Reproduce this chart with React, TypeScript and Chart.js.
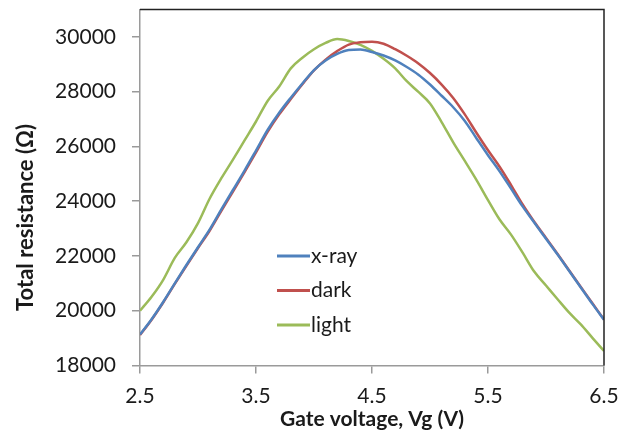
import React, { useEffect, useRef } from "react";
import { Chart, registerables } from "chart.js";

Chart.register(...registerables);

const VG = [
  2.5, 2.6, 2.7, 2.8, 2.9, 3.0, 3.1, 3.2, 3.3, 3.4, 3.5, 3.6, 3.7, 3.8, 3.9, 4.0,
  4.1, 4.2, 4.3, 4.4, 4.5, 4.6, 4.7, 4.8, 4.9, 5.0, 5.1, 5.2, 5.3, 5.4, 5.5, 5.6,
  5.7, 5.8, 5.9, 6.0, 6.1, 6.2, 6.3, 6.4, 6.5,
];

const XRAY = [
  19130, 19690, 20320, 21000, 21670, 22320, 22960, 23690, 24400, 25110, 25850,
  26600, 27230, 27780, 28300, 28790, 29140, 29380, 29520, 29540, 29450, 29320,
  29140, 28900, 28620, 28260, 27850, 27430, 26930, 26300, 25680, 25090, 24450,
  23800, 23210, 22630, 22050, 21450, 20850, 20250, 19670,
];

const DARK = [
  19110, 19670, 20300, 20980, 21640, 22290, 22920, 23640, 24340, 25050, 25780,
  26530, 27170, 27730, 28270, 28780, 29170, 29480, 29720, 29800, 29820, 29750,
  29550, 29310, 29030, 28680, 28260, 27770, 27170, 26500, 25860, 25260, 24580,
  23870, 23240, 22660, 22070, 21470, 20870, 20270, 19680,
];

const LIGHT = [
  20000, 20510, 21130, 21930, 22500, 23200, 24090, 24830, 25510, 26210, 26910,
  27660, 28190, 28850, 29240, 29550, 29780, 29920, 29850, 29710, 29490, 29200,
  28850, 28380, 27990, 27570, 26890, 26150, 25470, 24780, 24040, 23330, 22770,
  22110, 21420, 20920, 20420, 19930, 19500, 19010, 18530,
];

const SERIES_NAMES = ["x-ray", "dark", "light"];
const SERIES_COLORS = ["#4F81BD", "#C0504D", "#9BBB59"];
const X_TICKS = [2.5, 3.5, 4.5, 5.5, 6.5];
const Y_TICKS = [18000, 20000, 22000, 24000, 26000, 28000, 30000];
const X_TITLE = "Gate voltage, Vg (V)";
const Y_TITLE = "Total resistance (\u03A9)";

const FONT = "Lato, 'Open Sans', sans-serif";
const TEXT_COLOR = "#1a1a1a";
const AXIS_COLOR = "#9a9a9a";

const overlayPlugin = {
  id: "overlay",
  afterDatasetsDraw(chart: any) {
    const { ctx, chartArea } = chart;
    ctx.save();
    // top & right frame
    ctx.strokeStyle = "#222222";
    ctx.lineWidth = 1.5;
    ctx.beginPath();
    ctx.moveTo(chartArea.left, chartArea.top);
    ctx.lineTo(chartArea.right, chartArea.top);
    ctx.lineTo(chartArea.right, chartArea.bottom);
    ctx.stroke();

    // legend inside plot
    const lx = 277;
    const rows = [256, 290.5, 325];
    ctx.font = `21px ${FONT}`;
    ctx.textBaseline = "middle";
    ctx.textAlign = "left";
    chart.data.datasets.forEach((ds: any, i: number) => {
      const y = rows[i];
      ctx.strokeStyle = ds.borderColor;
      ctx.lineWidth = 3;
      ctx.beginPath();
      ctx.moveTo(lx, y);
      ctx.lineTo(lx + 33, y);
      ctx.stroke();
      ctx.fillStyle = TEXT_COLOR;
      ctx.fillText(ds.label, lx + 34, y);
    });

    // y-axis title
    ctx.translate(33, 217.5);
    ctx.rotate(-Math.PI / 2);
    ctx.font = `bold 22px ${FONT}`;
    ctx.textAlign = "center";
    ctx.textBaseline = "alphabetic";
    ctx.fillStyle = TEXT_COLOR;
    ctx.fillText(Y_TITLE, 0, 0);
    ctx.restore();
  },
};

export default function App() {
  const ref = useRef<HTMLCanvasElement | null>(null);

  useEffect(() => {
    if (!ref.current) return;
    const series = [XRAY, DARK, LIGHT];
    const chart = new Chart(ref.current, {
      type: "line",
      data: {
        datasets: series.map((vals, i) => ({
          label: SERIES_NAMES[i],
          data: VG.map((x, j) => ({ x, y: vals[j] })),
          borderColor: SERIES_COLORS[i],
          backgroundColor: SERIES_COLORS[i],
          borderWidth: 2.5,
          pointRadius: 0,
          tension: 0.4,
          cubicInterpolationMode: "monotone",
          fill: false,
        })),
      },
      options: {
        animation: false,
        responsive: false,
        layout: { padding: { top: 9.5, right: 18, left: 0, bottom: 0 } },
        plugins: {
          legend: { display: false },
          tooltip: { enabled: false },
        },
        scales: {
          x: {
            type: "linear",
            min: 2.5,
            max: 6.5,
            afterBuildTicks: (s: any) => {
              s.ticks = X_TICKS.map((v) => ({ value: v }));
            },
            afterFit: (s: any) => {
              s.height = 66.5;
              s.paddingLeft = 0;
              s.paddingRight = 0;
            },
            grid: {
              drawOnChartArea: false,
              drawTicks: true,
              tickLength: 8,
              color: AXIS_COLOR,
              lineWidth: 1.5,
            },
            border: { color: AXIS_COLOR, width: 1.5 },
            ticks: {
              color: TEXT_COLOR,
              font: { family: FONT, size: 21 },
              padding: 10,
              maxRotation: 0,
              callback: (v: any) => Number(v).toFixed(1),
            },
            title: {
              display: true,
              text: X_TITLE,
              color: TEXT_COLOR,
              font: { family: FONT, size: 21, weight: "bold" },
              padding: { top: 0, bottom: 0 },
            },
          },
          y: {
            type: "linear",
            min: 18000,
            max: 31000,
            afterBuildTicks: (s: any) => {
              s.ticks = Y_TICKS.map((v) => ({ value: v }));
            },
            afterFit: (s: any) => {
              s.width = 140;
              s.paddingTop = 0;
              s.paddingBottom = 0;
            },
            grid: {
              drawOnChartArea: false,
              drawTicks: true,
              tickLength: 8,
              color: AXIS_COLOR,
              lineWidth: 1.5,
            },
            border: { color: AXIS_COLOR, width: 1.5 },
            ticks: {
              color: TEXT_COLOR,
              font: { family: FONT, size: 21 },
              padding: 16,
              callback: (v: any) => String(v),
            },
          },
        },
      },
      plugins: [overlayPlugin],
    });
    return () => chart.destroy();
  }, []);

  return (
    <div style={{ position: "absolute", left: 0, top: 0, width: 622, height: 432, background: "#fff" }}>
      <canvas ref={ref} width={622} height={432} style={{ display: "block" }} />
    </div>
  );
}
